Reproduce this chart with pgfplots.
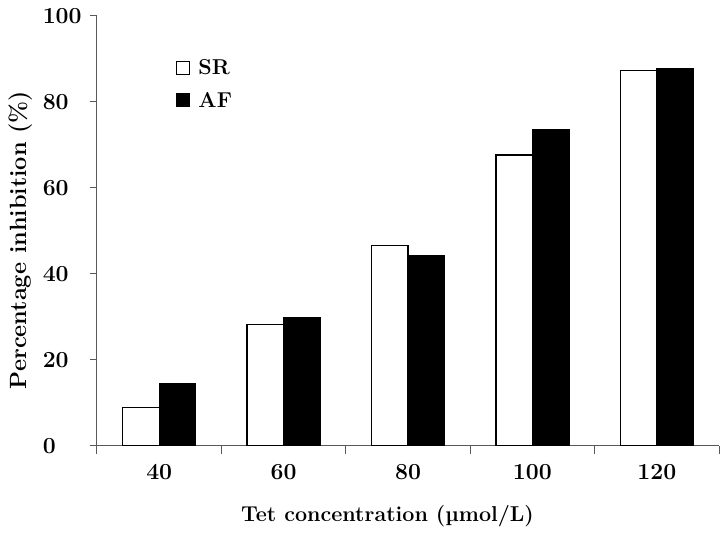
\documentclass[border=0pt]{standalone}
\usepackage{fontspec}
\usepackage{pgfplots}
\pgfplotsset{compat=1.18}
\newcommand{\lblfont}{\fontsize{21.5}{25}\selectfont\bfseries}
\newcommand{\tickfont}{\fontsize{23}{27}\selectfont\bfseries}
\newcommand{\ylblfont}{\fontsize{23.5}{27}\selectfont\bfseries}
\newcommand{\xlblfont}{\fontsize{21.5}{25}\selectfont\bfseries}
\begin{document}
\begin{tikzpicture}
\useasboundingbox (0,0) rectangle (728pt,534pt);
\begin{axis}[
  at={(97pt,88pt)}, anchor=south west,
  scale only axis, width=622pt, height=430pt,
  ybar=0pt, bar width=36.5pt,
  xmin=-0.5, xmax=4.5, ymin=0, ymax=100,
  axis x line*=bottom, axis y line*=left,
  xtick={0,1,2,3,4}, xticklabels={40,60,80,100,120},
  major x tick style={draw=none},
  minor xtick={-0.5,0.5,1.5,2.5,3.5,4.5},
  ytick={0,20,40,60,80,100},
  tick align=outside,
  major tick length=7pt, minor tick length=8pt,
  axis line style={black!65, line width=1pt},
  tick style={black!65, line width=1pt},
  /pgf/number format/assume math mode=true,
  tick label style={font=\tickfont},
  yticklabel={\makebox[40pt][l]{\tickfont\pgfmathprintnumber{\tick}}},
  yticklabel style={inner sep=0pt, anchor=east, xshift=-7pt},
  xticklabel style={yshift=-8pt},
  xlabel={Tet concentration (µmol/L)},
  ylabel={Percentage inhibition (\%)},
  xlabel style={font=\xlblfont, at={(axis description cs:0.467,-0.163)}, anchor=center},
  ylabel style={font=\ylblfont, at={(axis description cs:-0.122,0.479)}, anchor=center},
  legend style={at={(axis description cs:0.127,0.904)}, anchor=north west, draw=none, fill=none, inner sep=0pt, font=\lblfont, row sep=12pt, column sep=6pt},
  legend cell align=left,
  legend image code/.code={\draw[#1, line width=1.3pt] (0pt,-6.5pt) rectangle (13pt,6.5pt);},
]
\addplot[draw=black, fill=white, line width=1.3pt] coordinates {(0,8.9) (1,28.3) (2,46.7) (3,67.7) (4,87.4)};
\addlegendentry{SR}
\addplot[draw=black, fill=black, line width=1.3pt] coordinates {(0,14.5) (1,29.8) (2,44.2) (3,73.6) (4,87.8)};
\addlegendentry{AF}
\end{axis}
\end{tikzpicture}
\end{document}
